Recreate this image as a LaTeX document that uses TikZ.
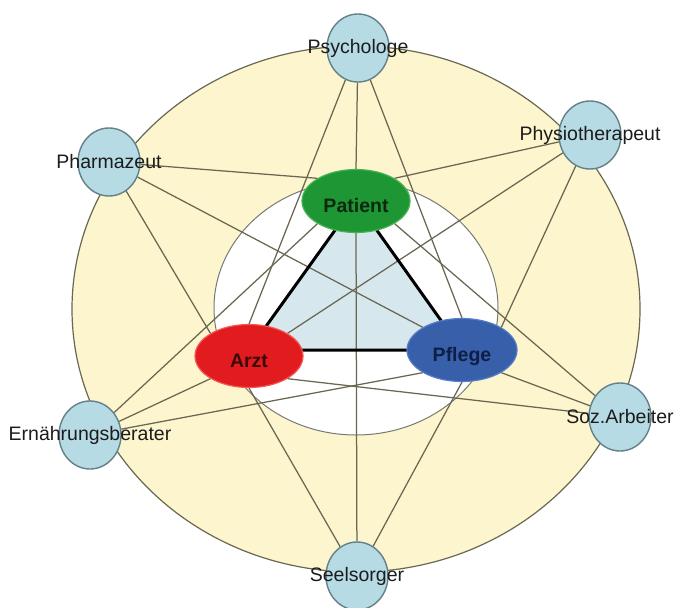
\documentclass[tikz,border=0pt]{standalone}
\usepackage{fontspec}
\setmainfont{Liberation Sans}
\usetikzlibrary{shapes.geometric,backgrounds}

\definecolor{ringyellow}{RGB}{253,245,205}
\definecolor{memberfill}{RGB}{182,219,228}
\definecolor{memberedge}{RGB}{100,128,136}
\definecolor{linkolive}{RGB}{105,103,82}
\definecolor{innerrim}{RGB}{120,120,115}
\definecolor{trifill}{RGB}{214,232,238}
\definecolor{labelgray}{RGB}{28,28,28}
\definecolor{patgreen}{RGB}{30,150,52}
\definecolor{patedge}{RGB}{70,180,85}
\definecolor{pattext}{RGB}{12,40,15}
\definecolor{arztred}{RGB}{226,28,30}
\definecolor{arztedge}{RGB}{245,85,85}
\definecolor{arzttext}{RGB}{60,10,10}
\definecolor{pflegeblue}{RGB}{55,95,170}
\definecolor{pflegeedge}{RGB}{85,125,200}
\definecolor{pflegetext}{RGB}{15,30,70}

\begin{document}
\begin{tikzpicture}[x=1pt,y=-1pt,
  member/.style={ellipse, draw=memberedge, line width=1.4pt, fill=memberfill,
    minimum width=62pt, minimum height=68pt, inner sep=0pt},
  memberlbl/.style={font=\fontsize{19.5}{20}\selectfont, text=labelgray, inner sep=0pt},
  core/.style={ellipse, minimum width=108pt, minimum height=63pt, inner sep=0pt,
    text height=22pt, text depth=0pt,
    line width=1.2pt, font=\fontsize{19.5}{20}\selectfont\bfseries},
  link/.style={draw=linkolive, line width=1.25pt},
  bond/.style={draw=black, line width=3pt, line join=round}]

\useasboundingbox (0,0) rectangle (676,607);

% core team
\node[core, fill=patgreen, draw=patedge, text=pattext] (patient) at (356,201) {Patient};
\node[core, fill=arztred, draw=arztedge, text=arzttext] (arzt) at (249,356) {Arzt};
\node[core, fill=pflegeblue, draw=pflegeedge, text=pflegetext, minimum width=110pt] (pflege) at (462,350) {Pflege};

% surrounding professions
\node[member, label={[memberlbl, name=psy-l]center:Psychologe}] (psy) at (358,48) {};
\node[member, label={[memberlbl, name=phy-l]center:Physiotherapeut}] (phy) at (590,135) {};
\node[member, label={[memberlbl, name=soz-l]center:Soz.Arbeiter}] (soz) at (620,417) {};
\node[member, label={[memberlbl, name=see-l]center:Seelsorger}] (see) at (357,576) {};
\node[member, label={[memberlbl, name=ern-l]center:Ernährungsberater}] (ern) at (90,435) {};
\node[member, label={[memberlbl, name=pha-l]center:Pharmazeut}] (pha) at (109,162) {};

\begin{pgfonlayer}{background}
  % outer ring and inner circle
  \draw[draw=linkolive, line width=1.2pt, fill=ringyellow] (356,309) ellipse [x radius=284, y radius=263];
  \draw[draw=innerrim, line width=1pt, fill=white] (356,308) ellipse [x radius=142, y radius=127];
  % core triangle fill
  \fill[trifill] (patient.center) -- (arzt.center |- pflege.center) -- (pflege.center) -- cycle;

  % links from each profession to the core team
  \draw[link] (psy) -- (patient.north);
  \draw[link] (psy) -- (arzt.north);
  \draw[link] (psy) -- (pflege.north);

  \draw[link] (pha) -- (patient.north west);
  \draw[link] (pha) -- (arzt.north west);
  \draw[link] (pha) -- (pflege.north west);

  \draw[link] (phy) -- (patient.north east);
  \draw[link] (phy) -- (arzt.north east);
  \draw[link] (phy) -- (pflege.north east);

  \draw[link] (ern) -- (patient.south west);
  \draw[link] (ern) -- (arzt.south west);
  \draw[link] (ern) -- (pflege.south west);

  \draw[link] (soz) -- (patient.south east);
  \draw[link] (soz) -- (arzt.south east);
  \draw[link] (soz) -- (pflege.south east);

  \draw[link] (patient.south) -- (see);
  \draw[link] (see) -- (arzt.south);
  \draw[link] (see) -- (pflege.south);

  % core triangle outline
  \draw[bond] (patient.center) -- (arzt.center |- pflege.center) -- (pflege.center) -- cycle;
\end{pgfonlayer}
\end{tikzpicture}
\end{document}
